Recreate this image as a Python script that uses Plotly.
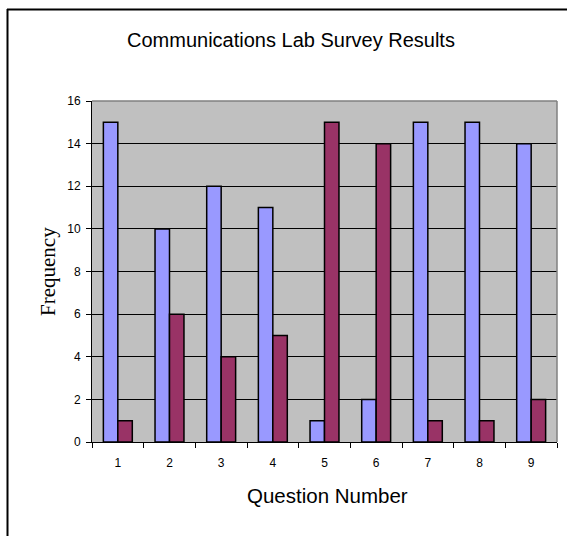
import plotly.graph_objects as go

questions = ["1", "2", "3", "4", "5", "6", "7", "8", "9"]
series_a = [15, 10, 12, 11, 1, 2, 15, 15, 14]
series_b = [1, 6, 4, 5, 15, 14, 1, 1, 2]
y_ticks = [0, 2, 4, 6, 8, 10, 12, 14, 16]

W, H = 567, 536
PL, PR, PT, PB = 92, 557, 101, 442  # plot area in page pixels
L, R, T, B = PL, W - PR, PT, H - PB
pw, ph = W - L - R, H - T - B

def px_x(x):
    return (x - PL) / pw

def px_y(y):
    return (PB - y) / ph

fig = go.Figure()
fig.add_trace(go.Bar(x=questions, y=series_a, marker=dict(color="#9999FF", line=dict(color="black", width=1.5)), showlegend=False))
fig.add_trace(go.Bar(x=questions, y=series_b, marker=dict(color="#993366", line=dict(color="black", width=1.5)), showlegend=False))

fig.update_layout(
    width=W, height=H,
    margin=dict(l=L, r=R, t=T, b=B, pad=0),
    paper_bgcolor="white",
    plot_bgcolor="#C0C0C0",
    barmode="group",
    bargap=0.44,
    bargroupgap=0,
    font=dict(family="Liberation Sans, Arial, sans-serif", color="black", size=12),
)
fig.update_xaxes(
    type="category",
    tickson="boundaries",
    ticks="outside", ticklen=5, tickcolor="black", tickwidth=1,
    showline=True, linecolor="black", linewidth=1,
    showgrid=False, ticklabelstandoff=10,
    tickfont=dict(size=12),
)
fig.update_yaxes(
    range=[0, 16], tickvals=y_ticks,
    ticks="outside", ticklen=5, tickcolor="black", tickwidth=1,
    showline=True, linecolor="black", linewidth=1,
    showgrid=True, gridcolor="black", gridwidth=1,
    zeroline=False, ticklabelstandoff=3,
    tickfont=dict(size=12),
)

# plot area top/right border in gray
fig.add_shape(type="line", xref="paper", yref="paper", x0=0, x1=1, y0=1, y1=1, line=dict(color="#808080", width=1.5))
fig.add_shape(type="line", xref="paper", yref="paper", x0=1, x1=1, y0=0, y1=1, line=dict(color="#808080", width=1.5))

# outer chart border (left and top)
fig.add_shape(type="line", xref="paper", yref="paper", x0=px_x(7.5), x1=px_x(7.5), y0=px_y(9), y1=px_y(560), line=dict(color="black", width=2))
fig.add_shape(type="line", xref="paper", yref="paper", x0=px_x(7), x1=px_x(600), y0=px_y(9.5), y1=px_y(9.5), line=dict(color="black", width=2))

fig.add_annotation(text="Communications Lab Survey Results", xref="paper", yref="paper",
                   x=px_x(291), y=px_y(40), xanchor="center", yanchor="middle", showarrow=False,
                   font=dict(size=20, family="Liberation Sans, Arial, sans-serif"))
fig.add_annotation(text="Question Number", xref="paper", yref="paper",
                   x=px_x(327), y=px_y(495), xanchor="center", yanchor="middle", showarrow=False,
                   font=dict(size=20.5, family="Liberation Sans, Arial, sans-serif"))
fig.add_annotation(text="Frequency", xref="paper", yref="paper", textangle=-90,
                   x=px_x(48), y=px_y(272), xanchor="center", yanchor="middle", showarrow=False,
                   font=dict(size=21, family="Liberation Serif, Times New Roman, serif"))

fig.write_html("out.html", config={"displayModeBar": False},
               post_script="document.body.style.margin='0';document.body.style.overflow='hidden';")
